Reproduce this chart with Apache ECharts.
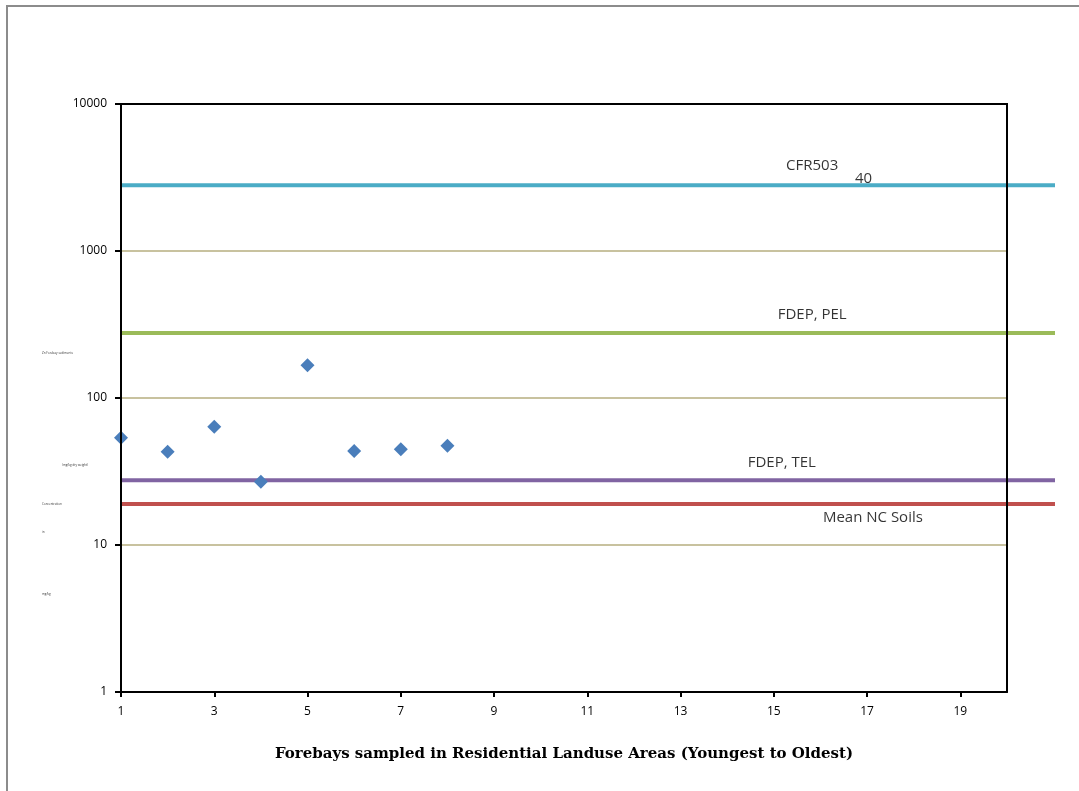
<!DOCTYPE html>
<html>
<head>
<meta charset="utf-8">
<script src="https://cdn.jsdelivr.net/npm/echarts@6/dist/echarts.min.js"></script>
<style>
  html, body { margin: 0; padding: 0; background: #fff; }
  #chart { width: 1079px; height: 791px; }
</style>
</head>
<body>
<div id="chart"></div>
<script>
// forebay sample numbers and measured values
const forebays = [1, 2, 3, 4, 5, 6, 7, 8]
const sampleValues = [53.7, 43.1, 63.8, 26.9, 166.9, 43.6, 44.8, 47.4]

// reference lines
const refNames = ['CFR503', 'FDEP, PEL', 'FDEP, TEL', 'Mean NC Soils']
const refValues = [2800, 277, 27.6, 19]
const refColors = ['#4bacc6', '#9bbb59', '#8064a2', '#c0504d']
const lineStart = 1
const lineEnd = 21

const yTicks = [1, 10, 100, 1000, 10000]
const xTitle = 'Forebays sampled in Residential Landuse Areas (Youngest to Oldest)'

// label placement along each reference line (x value, pixel offset)
const refLabels = [
  { text: 'CFR503', x: 15.8, ref: 0, dy: -20 },
  { text: '40', x: 16.9, ref: 0, dy: -7 },
  { text: 'FDEP, PEL', x: 15.8, ref: 1, dy: -18 },
  { text: 'FDEP, TEL', x: 15.15, ref: 2, dy: -17 },
  { text: 'Mean NC Soils', x: 17.1, ref: 3, dy: 14 }
]

const chart = echarts.init(document.getElementById('chart'))

const labelFont = 'Open Sans'

const series = []
// reference lines live on the second (wider) grid so they run past the frame
refValues.forEach((v, i) => {
  series.push({
    name: refNames[i],
    type: 'line',
    xAxisIndex: 1,
    yAxisIndex: 2,
    data: [[lineStart, v], [lineEnd, v]],
    symbol: 'none',
    lineStyle: { color: refColors[i], width: 4 },
    z: 3,
    silent: true
  })
})

series.push({
  name: 'labels',
  type: 'scatter',
  xAxisIndex: 1,
  yAxisIndex: 2,
  symbolSize: 0,
  silent: true,
  data: refLabels.map(l => ({
    name: l.text,
    value: [l.x, refValues[l.ref]],
    label: { offset: [0, l.dy] }
  })),
  label: {
    show: true,
    position: 'inside',
    formatter: p => p.name,
    color: '#000',
    fontFamily: labelFont,
    fontSize: 15
  },
  z: 6
})

series.push({
  name: 'samples',
  type: 'scatter',
  data: forebays.map((x, i) => [x, sampleValues[i]]),
  symbol: 'diamond',
  symbolSize: 14,
  clip: false,
  itemStyle: { color: '#4a7ebb', opacity: 1 },
  z: 5
})

const tinyTexts = [
  { t: 'Zn Forebay sediments', x: 42, y: 352 },
  { t: '(mg/kg dry weight)', x: 62, y: 464 },
  { t: 'Concentration', x: 42, y: 503 },
  { t: 'in', x: 42, y: 531 },
  { t: 'mg/kg', x: 42, y: 593 }
]

const logAxis = (extra) => Object.assign({
  type: 'log',
  logBase: 10,
  min: yTicks[0],
  max: yTicks[yTicks.length - 1]
}, extra)

const option = {
  animation: false,
  backgroundColor: '#fff',
  grid: [
    { left: 121, right: 72, top: 104, bottom: 99, show: false },
    { left: 121, right: 24, top: 104, bottom: 99, show: false }
  ],
  xAxis: [
    {
      type: 'value',
      gridIndex: 0,
      min: 1,
      max: 20,
      interval: 2,
      axisLine: { show: true, onZero: false, lineStyle: { color: '#000', width: 2 } },
      axisTick: { show: true, length: 5, lineStyle: { color: '#000', width: 2 } },
      axisLabel: { color: '#000', fontSize: 12, fontFamily: labelFont, margin: 14, showMaxLabel: false },
      splitLine: { show: false },
      name: xTitle,
      nameLocation: 'middle',
      nameGap: 55,
      nameTextStyle: { color: '#000', fontSize: 15, fontWeight: 'bold', fontFamily: 'DejaVu Serif' },
      z: 10
    },
    {
      type: 'value',
      gridIndex: 1,
      min: 1,
      max: lineEnd,
      show: false
    }
  ],
  yAxis: [
    logAxis({
      gridIndex: 0,
      axisLine: { show: true, lineStyle: { color: '#000', width: 2 } },
      axisTick: { show: true, length: 6, lineStyle: { color: '#000', width: 2 } },
      axisLabel: { color: '#000', fontSize: 12, fontFamily: labelFont, margin: 14, formatter: v => String(v) },
      splitLine: { show: true, lineStyle: { color: '#c8c29f', width: 2 } },
      z: 10
    }),
    logAxis({
      gridIndex: 0,
      position: 'right',
      axisLine: { show: true, lineStyle: { color: '#000', width: 2 } },
      axisTick: { show: false },
      axisLabel: { show: false },
      splitLine: { show: false },
      z: 10
    }),
    logAxis({ gridIndex: 1, show: false })
  ],
  series: series,
  graphic: [
    {
      type: 'rect',
      shape: { x: 7, y: 6, width: 1200, height: 900 },
      style: { fill: 'none', stroke: '#8c8c8c', lineWidth: 2 },
      silent: true
    },
    {
      type: 'line',
      shape: { x1: 121, y1: 104, x2: 1008, y2: 104 },
      style: { stroke: '#000', lineWidth: 2 },
      z: 20,
      silent: true
    }
  ].concat(tinyTexts.map(t => ({
    type: 'text',
    x: t.x,
    y: t.y,
    style: { text: t.t, fontSize: 3, fill: '#333', fontFamily: labelFont },
    silent: true
  })))
}

chart.setOption(option)

window.addEventListener('resize', () => chart.resize())
</script>
</body>
</html>
